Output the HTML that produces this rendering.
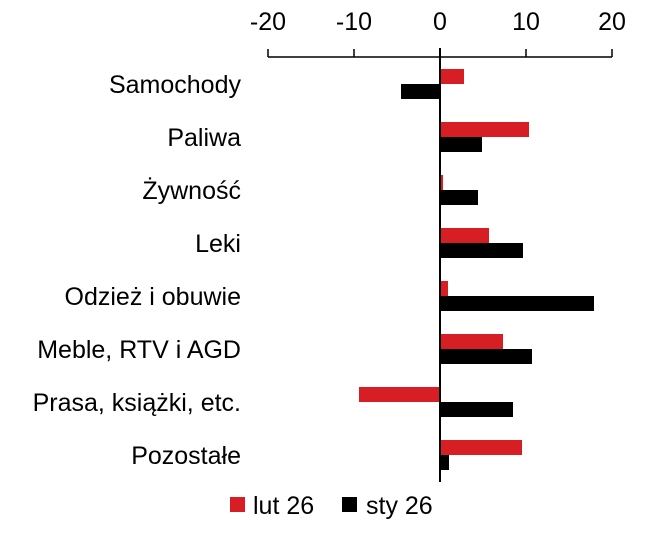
<!DOCTYPE html>
<html><head><meta charset="utf-8"><style>
body{margin:0;background:#fff;}
svg text{font-family:"Liberation Sans",sans-serif;font-size:25px;fill:#000;}
</style></head><body>
<svg width="653" height="550" viewBox="0 0 653 550">
<g text-anchor="middle" style="font-size:24px">
<text x="268" y="30">-20</text><text x="354" y="30">-10</text><text x="440" y="30">0</text><text x="526" y="30">10</text><text x="612" y="30">20</text>
</g>
<g stroke="#000" stroke-width="1.5" fill="none">
<path d="M268,57H612 M268,49V57 M354,49V57 M526,49V57 M612,49V57"/>
</g>
<g fill="#d81e25">
<rect x="440" y="69" width="24" height="15"/>
<rect x="440" y="122" width="89" height="15"/>
<rect x="440" y="175" width="3" height="15"/>
<rect x="440" y="228" width="49" height="15"/>
<rect x="440" y="281" width="8" height="15"/>
<rect x="440" y="334" width="63" height="15"/>
<rect x="359" y="387" width="81" height="15"/>
<rect x="440" y="440" width="82" height="15"/>
</g>
<g fill="#000">
<rect x="401" y="84" width="39" height="15"/>
<rect x="440" y="137" width="42" height="15"/>
<rect x="440" y="190" width="38" height="15"/>
<rect x="440" y="243" width="83" height="15"/>
<rect x="440" y="296" width="154" height="15"/>
<rect x="440" y="349" width="92" height="15"/>
<rect x="440" y="402" width="73" height="15"/>
<rect x="440" y="455" width="9" height="15"/>
</g>
<line x1="440" y1="48" x2="440" y2="482" stroke="#000" stroke-width="2"/>
<g text-anchor="end">
<text x="241" y="93">Samochody</text>
<text x="241" y="146">Paliwa</text>
<text x="241" y="199">Żywność</text>
<text x="241" y="252">Leki</text>
<text x="241" y="305">Odzież i obuwie</text>
<text x="241" y="358">Meble, RTV i AGD</text>
<text x="241" y="411">Prasa, książki, etc.</text>
<text x="241" y="464">Pozostałe</text>
</g>
<rect x="230" y="497" width="15" height="15" fill="#d81e25"/>
<text x="253" y="514">lut 26</text>
<rect x="342" y="497" width="15" height="15" fill="#000"/>
<text x="366" y="514">sty 26</text>
</svg>
</body></html>
